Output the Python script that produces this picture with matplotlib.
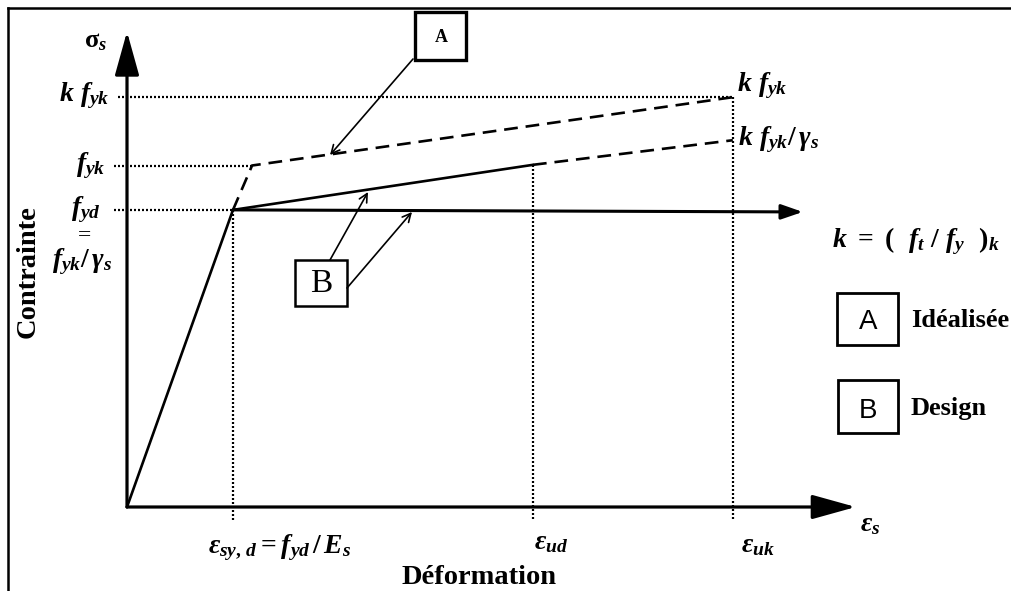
import matplotlib
matplotlib.use("Agg")
import matplotlib.pyplot as plt
from matplotlib.patches import Rectangle
import numpy as np

plt.rcParams['font.family'] = ['Liberation Serif', 'DejaVu Serif']
plt.rcParams['mathtext.fontset'] = 'custom'
plt.rcParams['mathtext.rm'] = 'Liberation Serif:bold'
plt.rcParams['mathtext.it'] = 'Liberation Serif:italic:bold'
plt.rcParams['mathtext.bf'] = 'Liberation Serif:bold'

# strains (per mille) and stresses (MPa)
eps_yd = 2.0      # design yield strain
eps_yk = 2.36     # characteristic yield strain
eps_ud = 7.66
eps_uk = 11.43
eps_max = 13.75   # end of strain axis
f_yd = 435.0
f_yk = 500.0
kf_yk = 600.0
f_ud = 501.0      # design curve at eps_ud
kf_yk_g = 537.0   # k fyk / gamma_s
sig_max = 691.0   # end of stress axis
eps_hor_end = 12.75

# idealised curve (A) and design curve (B)
ideal_eps = [eps_yd, eps_yk, eps_uk]
ideal_sig = [f_yd, f_yk, kf_yk]
design_eps = [0.0, eps_yd, eps_ud]
design_sig = [0.0, f_yd, f_ud]
design_ext_eps = [eps_ud, eps_uk]
design_ext_sig = [f_ud, kf_yk_g]

# pixel layout of the picture
W, H = 1012, 591
X0, Y0 = 127, 507          # origin in pixels
SX, SY = 53.0, 0.683       # pixels per unit

fig = plt.figure(figsize=(W / 100, H / 100), dpi=100)
ax = fig.add_axes([0, 0, 1, 1])
ax.set_xlim(-X0 / SX, (W - X0) / SX)
ax.set_ylim((Y0 - H) / SY, Y0 / SY)
ax.axis('off')


def P(x, y):
    return ((x - X0) / SX, (Y0 - y) / SY)


k = dict(color='black')

# outer frame (top and left only)
ax.plot(*zip(P(8, 8), P(W, 8)), lw=1.8, **k)
ax.plot(*zip(P(8, 8), P(8, H)), lw=1.8, **k)

# axes with arrows
big = dict(arrowstyle='-|>,head_length=2.7,head_width=0.75',
           lw=2.3, color='black', shrinkA=0, shrinkB=0)
ax.annotate('', xy=(0, sig_max + 5), xytext=(0, 0), arrowprops=big)
ax.annotate('', xy=(eps_max, 0), xytext=(0, 0), arrowprops=big)
# horizontal design branch
ax.annotate('', xy=(eps_hor_end, f_yd - 3), xytext=(eps_yd, f_yd),
            arrowprops=dict(arrowstyle='-|>,head_length=1.3,head_width=0.45',
                            lw=2.2, color='black', shrinkA=0, shrinkB=0))

# curves
ax.plot(design_eps, design_sig, lw=1.9, solid_capstyle='round', **k)
ax.plot(design_ext_eps, design_ext_sig, lw=1.9, ls=(0, (5.2, 3)), **k)
ax.plot(ideal_eps, ideal_sig, lw=1.9, ls=(0, (5.2, 3)), **k)

# dotted reference lines
dot = dict(lw=1.6, ls=(0, (0.9, 0.9)), color='black')
ax.plot([P(118, 0)[0], eps_uk], [kf_yk, kf_yk], **dot)
ax.plot([P(114, 0)[0], eps_yk], [f_yk, f_yk], **dot)
ax.plot([P(114, 0)[0], eps_yd], [f_yd, f_yd], **dot)
ybot = P(0, 521)[1]
ax.plot([eps_yd, eps_yd], [f_yd, ybot], **dot)
ax.plot([eps_ud, eps_ud], [f_ud, ybot], **dot)
ax.plot([eps_uk, eps_uk], [kf_yk, ybot], **dot)

# axis / value labels
fs = 20
ax.text(*P(96, 42), r'$\mathrm{\sigma}_s$', fontsize=19, ha='center', va='center')
ax.text(*P(110, 96), r'$k\ f_{yk}$', fontsize=fs, ha='right', va='center')
ax.text(*P(105, 166), r'$f_{yk}$', fontsize=fs, ha='right', va='center')
ax.text(*P(101, 210), r'$f_{yd}$', fontsize=fs, ha='right', va='center')
ax.text(*P(85, 236), '=', fontsize=17, ha='center', va='center')
ax.text(*P(82, 262), r'$f_{yk}/\,\gamma_s$', fontsize=fs, ha='center', va='center')
ax.text(*P(28, 272), 'Contrainte', fontsize=20.5, fontweight='bold',
        rotation=90, ha='center', va='center')
ax.text(*P(479, 577), 'Déformation', fontsize=20.5, fontweight='bold',
        ha='center', va='center')
ax.text(*P(280, 548), r'$\varepsilon_{sy,\,d} = f_{yd}\,/\,E_s$', fontsize=fs,
        ha='center', va='center')
ax.text(*P(551, 543), r'$\varepsilon_{ud}$', fontsize=fs, ha='center', va='center')
ax.text(*P(758, 546), r'$\varepsilon_{uk}$', fontsize=fs, ha='center', va='center')
ax.text(*P(870, 525), r'$\varepsilon_s$', fontsize=fs, ha='center', va='center')
ax.text(*P(737, 86), r'$k\ f_{yk}$', fontsize=fs, ha='left', va='center')
ax.text(*P(738, 140), r'$k\ f_{yk}/\,\gamma_s$', fontsize=fs, ha='left', va='center')
ax.text(*P(832, 241), r'$k\ =\ (\ \ f_t\ /\ f_y\ \ )_k$', fontsize=fs,
        ha='left', va='center')

# legend boxes
def box(x0, y0, x1, y1, lw=2.0):
    a = P(x0, y1)
    b = P(x1, y0)
    ax.add_patch(Rectangle(a, b[0] - a[0], b[1] - a[1], fill=False,
                           lw=lw, edgecolor='black'))


box(837, 293, 898, 345)
box(838, 380, 898, 433)
ax.text(*P(868, 322), 'A', fontsize=20, family='Liberation Sans',
        ha='center', va='center')
ax.text(*P(868, 411), 'B', fontsize=20, family='Liberation Sans',
        ha='center', va='center')
ax.text(*P(911, 320), 'Idéalisée', fontsize=19, fontweight='bold',
        ha='left', va='center')
ax.text(*P(911, 409), 'Design', fontsize=19, fontweight='bold',
        ha='left', va='center')

# callout boxes
box(415, 12, 466, 60, lw=2.4)
ax.text(*P(441, 38), 'A', fontsize=13, fontweight='bold', ha='center', va='center')
box(295, 260, 347, 306, lw=1.8)
ax.text(*P(321, 284), 'B', fontsize=24, ha='center', va='center')

arr = dict(arrowstyle='->,head_length=0.6,head_width=0.3', lw=1.2,
           color='black', shrinkA=0, shrinkB=0)
ax.annotate('', xy=P(330, 155), xytext=P(413, 59), arrowprops=arr)
ax.annotate('', xy=P(368, 192), xytext=P(330, 260), arrowprops=arr)
ax.annotate('', xy=P(412, 212), xytext=P(347, 288), arrowprops=arr)

fig.savefig('out.png', dpi=100)
